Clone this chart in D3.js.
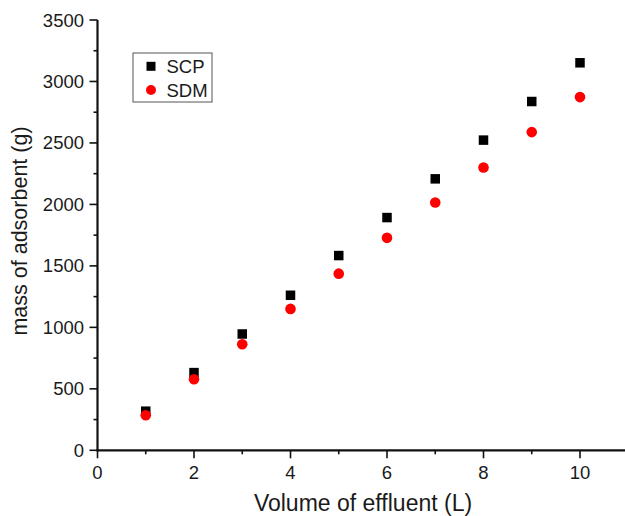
<!DOCTYPE html>
<html><head><meta charset="utf-8">
<script src="https://cdn.jsdelivr.net/npm/d3@7"></script>
<style>body{margin:0;background:#fff}svg{display:block}text{font-family:"Liberation Sans",Arial,sans-serif;fill:#1a1a1a}</style>
</head><body><svg id="c" width="625" height="516"></svg>
<script>
const volumes = [1,2,3,4,5,6,7,8,9,10];
const scpValues = [318,632,946,1261,1584,1893,2208,2523,2837,3152];
const sdmValues = [285,578,863,1150,1437,1728,2015,2300,2588,2873];
const xTicks = [0,2,4,6,8,10];
const yTicks = [0,500,1000,1500,2000,2500,3000,3500];
const seriesNames = ["SCP","SDM"];

const svg = d3.select("#c");
const x = d3.scaleLinear().domain([0,10]).range([97.5,580]);
const y = d3.scaleLinear().domain([0,3500]).range([450.3,20]);
const x0 = 97.5, y0 = 450.3;
const ink = "#111";

// axis lines
svg.append("line").attr("x1",x0).attr("x2",x0).attr("y1",y(3500)).attr("y2",y0+1).attr("stroke",ink).attr("stroke-width",2.2);
svg.append("line").attr("x1",x0-1).attr("x2",625).attr("y1",y0).attr("y2",y0).attr("stroke",ink).attr("stroke-width",2.2);

// y ticks
const yMinor = d3.range(250,3500,500);
svg.selectAll(".ym").data(yMinor).join("line").attr("x1",x0-4).attr("x2",x0).attr("y1",d=>y(d)).attr("y2",d=>y(d)).attr("stroke",ink).attr("stroke-width",1.6);
svg.selectAll(".yM").data(yTicks).join("line").attr("x1",x0-8).attr("x2",x0).attr("y1",d=>y(d)).attr("y2",d=>y(d)).attr("stroke",ink).attr("stroke-width",1.6);
svg.selectAll(".yl").data(yTicks).join("text").attr("x",84).attr("y",d=>y(d)+6.5).attr("text-anchor","end").attr("font-size",18.5).text(d=>d);

// x ticks
const xMinor = [1,3,5,7,9];
svg.selectAll(".xm").data(xMinor).join("line").attr("x1",d=>x(d)).attr("x2",d=>x(d)).attr("y1",y0).attr("y2",y0+4).attr("stroke",ink).attr("stroke-width",1.6);
svg.selectAll(".xM").data(xTicks).join("line").attr("x1",d=>x(d)).attr("x2",d=>x(d)).attr("y1",y0).attr("y2",y0+8).attr("stroke",ink).attr("stroke-width",1.6);
svg.selectAll(".xl").data(xTicks).join("text").attr("x",d=>x(d)).attr("y",478.5).attr("text-anchor","middle").attr("font-size",18.5).text(d=>d);

// axis titles
svg.append("text").attr("x",363).attr("y",511).attr("text-anchor","middle").attr("font-size",23).text("Volume of effluent (L)");
svg.append("text").attr("transform","translate(27,231) rotate(-90)").attr("text-anchor","middle").attr("font-size",21.5).text("mass of adsorbent (g)");

// data
const sq = 9.5;
svg.selectAll(".scp").data(volumes).join("rect")
  .attr("x",(d)=>x(d)-sq/2).attr("y",(d,i)=>y(scpValues[i])-sq/2).attr("width",sq).attr("height",sq).attr("fill","#000");
svg.selectAll(".sdm").data(volumes).join("circle")
  .attr("cx",d=>x(d)).attr("cy",(d,i)=>y(sdmValues[i])).attr("r",5.3).attr("fill","#ff0000");

// legend
const lg = svg.append("g");
lg.append("rect").attr("x",133).attr("y",53).attr("width",79).attr("height",49).attr("fill","#fff").attr("stroke","#555").attr("stroke-width",1);
lg.append("rect").attr("x",151-4.5).attr("y",66.3-4.5).attr("width",9).attr("height",9).attr("fill","#000");
lg.append("circle").attr("cx",151).attr("cy",90).attr("r",5).attr("fill","#ff0000");
lg.append("text").attr("x",166.5).attr("y",73).attr("font-size",18.5).text(seriesNames[0]);
lg.append("text").attr("x",166.5).attr("y",96.5).attr("font-size",18.5).text(seriesNames[1]);
</script></body></html>
